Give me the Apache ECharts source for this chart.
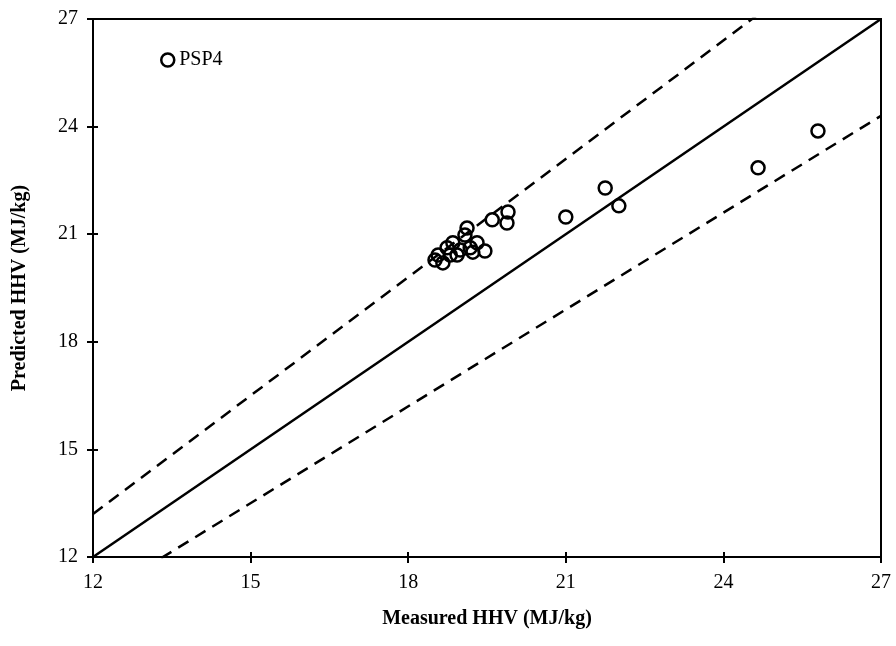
<!DOCTYPE html>
<html>
<head>
<meta charset="utf-8">
<script src="https://cdn.jsdelivr.net/npm/echarts@6/dist/echarts.min.js"></script>
<style>
  html, body { margin: 0; padding: 0; background: #fff; }
  #chart { width: 896px; height: 646px; }
</style>
</head>
<body>
<div id="chart"></div>
<script>
// measured vs predicted HHV (MJ/kg)
const measured = [19.60, 19.90, 19.88, 21.00, 21.75, 22.01, 24.66, 25.80,
  19.12, 19.08, 18.85, 18.74, 19.31, 19.23, 19.46, 18.57, 18.51, 18.66, 18.93, 19.18, 18.99, 18.80]
const predicted = [21.40, 21.62, 21.31, 21.48, 22.29, 21.79, 22.85, 23.88,
  21.17, 20.98, 20.76, 20.62, 20.76, 20.50, 20.53, 20.42, 20.28, 20.20, 20.42, 20.62, 20.56, 20.42]
const ticks = [12, 15, 18, 21, 24, 27]
const lineX = [12, 27]
const slopes = [1, 1.1, 0.9] // 1:1 line and +/-10% bands

const font = '"Liberation Serif", "DejaVu Serif", serif'
const chart = echarts.init(document.getElementById('chart'))

const points = measured.map((m, i) => [m, predicted[i]])
const refLine = (k, dashed) => ({
  type: 'line',
  data: lineX.map(x => [x, x * k]),
  showSymbol: false,
  symbol: 'none',
  clip: true,
  silent: true,
  lineStyle: { color: '#000', width: 2.5, type: dashed ? [12, 8] : 'solid' },
  z: 1
})

const axisBase = {
  min: ticks[0],
  max: ticks[ticks.length - 1],
  interval: 3,
  splitLine: { show: false },
  axisLine: { show: true, onZero: false, lineStyle: { color: '#000', width: 2 } }
}

chart.setOption({
  animation: false,
  grid: {
    left: 93, right: 15, top: 19, bottom: 89,
    show: true, borderColor: '#000', borderWidth: 2, backgroundColor: 'transparent'
  },
  legend: {
    left: 155, top: 45,
    data: [{ name: 'PSP4', icon: 'circle', itemStyle: { color: 'rgba(0,0,0,0)', borderColor: '#000', borderWidth: 2.5 } }],
    itemWidth: 13, itemHeight: 13,
    itemGap: 4,
    textStyle: { fontFamily: font, fontSize: 20, color: '#000', padding: [2, 0, 0, 0] }
  },
  xAxis: [
    Object.assign({}, axisBase, {
      type: 'value',
      name: 'Measured HHV (MJ/kg)',
      nameLocation: 'middle',
      nameGap: 52,
      nameTextStyle: { fontFamily: font, fontSize: 20, fontWeight: 'bold', color: '#000' },
      axisTick: { show: true, length: 6, lineStyle: { color: '#000', width: 2 } },
      axisLabel: { fontFamily: font, fontSize: 20, color: '#000', margin: 16 }
    }),
    Object.assign({}, axisBase, {
      type: 'value', position: 'bottom',
      axisTick: { show: true, inside: true, length: 5, lineStyle: { color: '#000', width: 2 } },
      axisLabel: { show: false }
    })
  ],
  yAxis: [
    Object.assign({}, axisBase, {
      type: 'value',
      name: 'Predicted HHV (MJ/kg)',
      nameLocation: 'middle',
      nameGap: 63,
      nameTextStyle: { fontFamily: font, fontSize: 20, fontWeight: 'bold', color: '#000' },
      axisTick: { show: true, length: 6, lineStyle: { color: '#000', width: 2 } },
      axisLabel: { fontFamily: font, fontSize: 20, color: '#000', margin: 15 }
    }),
    Object.assign({}, axisBase, {
      type: 'value', position: 'left',
      axisTick: { show: true, inside: true, length: 5, lineStyle: { color: '#000', width: 2 } },
      axisLabel: { show: false }
    })
  ],
  series: [
    refLine(slopes[0], false),
    refLine(slopes[1], true),
    refLine(slopes[2], true),
    {
      name: 'PSP4',
      type: 'scatter',
      data: points,
      symbol: 'circle',
      symbolSize: 13,
      itemStyle: { color: 'rgba(0,0,0,0)', borderColor: '#000', borderWidth: 2.5, opacity: 1 },
      z: 3
    }
  ]
})
</script>
</body>
</html>
